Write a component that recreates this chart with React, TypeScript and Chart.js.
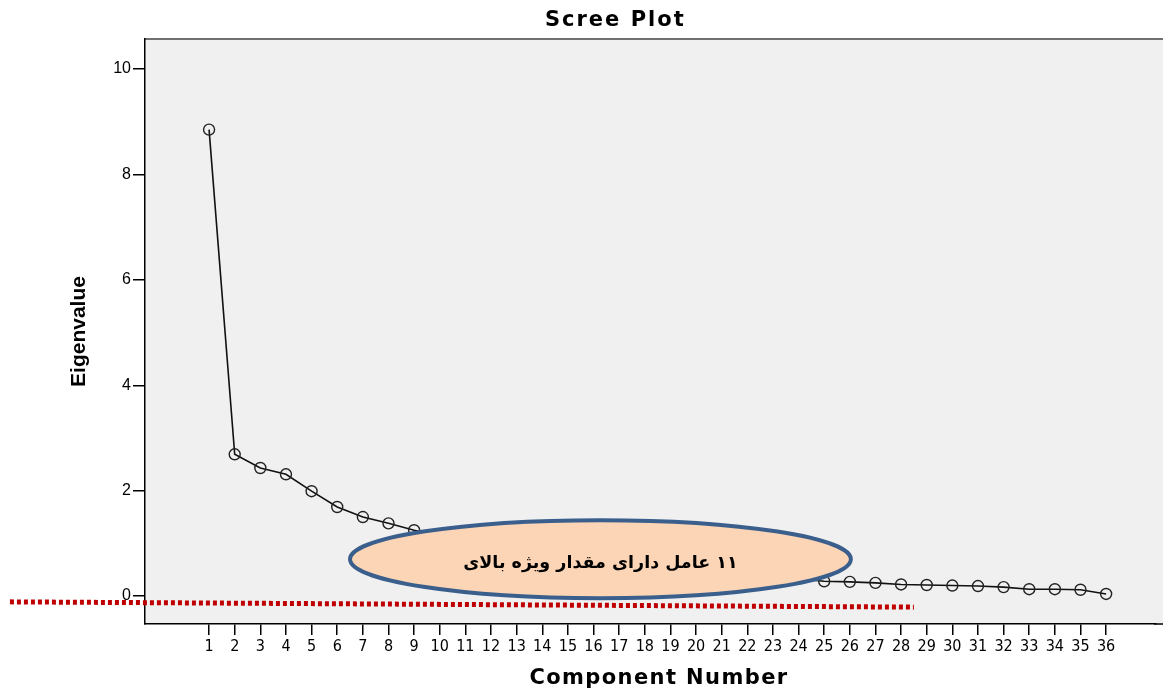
import React, { useEffect, useRef } from "react";
import { Chart, registerables } from "chart.js";

Chart.register(...registerables);

// ---- data ----
const componentNumbers = [
  1, 2, 3, 4, 5, 6, 7, 8, 9, 10, 11, 12, 13, 14, 15, 16, 17, 18,
  19, 20, 21, 22, 23, 24, 25, 26, 27, 28, 29, 30, 31, 32, 33, 34, 35, 36,
];
const eigenvalues = [
  8.85, 2.69, 2.43, 2.31, 1.99, 1.69, 1.5, 1.38, 1.25, 1.15, 1.05, 0.96,
  0.9, 0.84, 0.78, 0.72, 0.67, 0.62, 0.57, 0.52, 0.48, 0.43, 0.38, 0.33,
  0.28, 0.27, 0.25, 0.22, 0.21, 0.2, 0.19, 0.17, 0.13, 0.13, 0.12, 0.04,
];
const yTickValues = [0, 2, 4, 6, 8, 10];
const chartTitle = "Scree Plot";
const xAxisTitle = "Component Number";
const yAxisTitle = "Eigenvalue";
const annotationText = "۱۱ عامل دارای مقدار ویژه بالای";

// annotation geometry in data units
const ellipseCenter = [16.27, 0.7];
const ellipseRadii = [9.77, 0.74];
const redLineStart = [-6.77, -0.11];
const redLineEnd = [28.5, -0.21];
const titleCenterX = 16.85; // data x under which the title is centred

const backgroundPlugin = {
  id: "plotBackground",
  beforeDraw(chart: any) {
    const { ctx, chartArea: a } = chart;
    ctx.save();
    ctx.fillStyle = "#ffffff";
    ctx.fillRect(0, 0, chart.width, chart.height);
    ctx.fillStyle = "#F0F0F0";
    ctx.fillRect(a.left, a.top, chart.width - a.left, a.bottom - a.top);
    ctx.strokeStyle = "#707070";
    ctx.lineWidth = 2;
    ctx.beginPath();
    ctx.moveTo(a.left, a.top);
    ctx.lineTo(chart.width, a.top);
    ctx.stroke();
    ctx.restore();
  },
  afterDraw(chart: any) {
    const { ctx, chartArea: a } = chart;
    // continue the bottom axis line to the edge of the picture
    ctx.save();
    ctx.strokeStyle = "#000000";
    ctx.lineWidth = 1.5;
    ctx.beginPath();
    ctx.moveTo(a.right - 2, a.bottom);
    ctx.lineTo(chart.width, a.bottom);
    ctx.stroke();
    ctx.restore();
  },
};

const titlesPlugin = {
  id: "spacedTitles",
  afterDraw(chart: any) {
    const { ctx, chartArea: a } = chart;
    const xs = chart.scales.x;
    ctx.save();
    ctx.fillStyle = "#000000";
    ctx.textAlign = "center";
    ctx.textBaseline = "middle";
    (ctx as any).letterSpacing = "2px";
    ctx.font = 'bold 21px "DejaVu Sans", sans-serif';
    ctx.fillText(chartTitle, xs.getPixelForValue(titleCenterX), a.top / 2 + 1);
    (ctx as any).letterSpacing = "1.4px";
    ctx.font = 'bold 21px "DejaVu Sans", sans-serif';
    ctx.fillText(xAxisTitle, (a.left + chart.width) / 2 + 5, 679);
    ctx.restore();
  },
};

const annotationPlugin = {
  id: "screeAnnotation",
  afterDraw(chart: any) {
    const { ctx } = chart;
    const xs = chart.scales.x;
    const ys = chart.scales.y;
    ctx.save();
    // red dotted line
    ctx.strokeStyle = "#C00000";
    ctx.lineWidth = 5;
    ctx.setLineDash([4, 3]);
    ctx.beginPath();
    ctx.moveTo(xs.getPixelForValue(redLineStart[0]), ys.getPixelForValue(redLineStart[1]));
    ctx.lineTo(xs.getPixelForValue(redLineEnd[0]), ys.getPixelForValue(redLineEnd[1]));
    ctx.stroke();
    ctx.setLineDash([]);

    // ellipse
    const cx = xs.getPixelForValue(ellipseCenter[0]);
    const cy = ys.getPixelForValue(ellipseCenter[1]);
    const rx = xs.getPixelForValue(ellipseCenter[0] + ellipseRadii[0]) - cx;
    const ry = cy - ys.getPixelForValue(ellipseCenter[1] + ellipseRadii[1]);
    ctx.beginPath();
    ctx.ellipse(cx, cy, rx, ry, 0, 0, Math.PI * 2);
    ctx.fillStyle = "#FBD5B5";
    ctx.fill();
    ctx.strokeStyle = "#3B5F8C";
    ctx.lineWidth = 4;
    ctx.stroke();

    // text
    ctx.fillStyle = "#000000";
    ctx.font = 'bold 17.5px "DejaVu Sans", sans-serif';
    ctx.textAlign = "center";
    ctx.textBaseline = "middle";
    (ctx as any).direction = "rtl";
    ctx.fillText(annotationText, cx, cy + 4);
    ctx.restore();
  },
};

export default function App() {
  const canvasRef = useRef<HTMLCanvasElement | null>(null);

  useEffect(() => {
    if (!canvasRef.current) return;
    const chart = new Chart(canvasRef.current, {
      type: "line",
      data: {
        datasets: [
          {
            data: componentNumbers.map((c, i) => ({ x: c, y: eigenvalues[i] })),
            borderColor: "#111111",
            borderWidth: 1.6,
            pointRadius: 5.5,
            pointBorderWidth: 1.4,
            pointBackgroundColor: "rgba(0,0,0,0)",
            pointBorderColor: "#222222",
            tension: 0,
            fill: false,
          },
        ],
      },
      options: {
        animation: false,
        responsive: true,
        maintainAspectRatio: false,
        layout: { padding: { top: 39, right: 0, left: 0, bottom: 0 } },
        plugins: {
          legend: { display: false },
          tooltip: { enabled: false },
          title: { display: false },
        },
        scales: {
          x: {
            type: "linear",
            min: -1.5,
            max: 37.95,
            afterFit(scale: any) {
              scale.height = 68;
            },
            afterBuildTicks(scale: any) {
              scale.ticks = componentNumbers.map((v) => ({ value: v }));
            },
            ticks: {
              autoSkip: false,
              maxRotation: 0,
              minRotation: 0,
              padding: 2,
              color: "#000000",
              font: { family: '"Liberation Sans Narrow", "DejaVu Sans Condensed", sans-serif', size: 16 },
              callback: (v: any) => String(v),
            },
            grid: {
              drawOnChartArea: false,
              drawTicks: true,
              tickLength: 11,
              color: "#000000",
              lineWidth: 1.5,
            },
            border: { display: true, color: "#000000", width: 1.5 },
            title: { display: false },
          },
          y: {
            type: "linear",
            min: -0.53,
            max: 10.57,
            afterFit(scale: any) {
              scale.width = 145;
            },
            afterBuildTicks(scale: any) {
              scale.ticks = yTickValues.map((v) => ({ value: v }));
            },
            ticks: {
              padding: 2,
              color: "#000000",
              font: { family: '"Liberation Sans", Arial, sans-serif', size: 16 },
              callback: (v: any) => String(v),
            },
            grid: {
              drawOnChartArea: false,
              drawTicks: true,
              tickLength: 12,
              color: "#000000",
              lineWidth: 1.5,
            },
            border: { display: true, color: "#000000", width: 1.5 },
            title: {
              display: true,
              text: yAxisTitle,
              color: "#000000",
              font: { family: '"Liberation Sans", Arial, sans-serif', size: 21, weight: "bold", lineHeight: 1.2 },
              padding: { top: 67, bottom: 0 },
            },
          },
        },
      },
      plugins: [backgroundPlugin, titlesPlugin, annotationPlugin],
    } as any);
    return () => chart.destroy();
  }, []);

  return (
    <div style={{ position: "fixed", left: 0, top: 0, width: 1163, height: 692, background: "#fff" }}>
      <canvas ref={canvasRef} />
    </div>
  );
}
